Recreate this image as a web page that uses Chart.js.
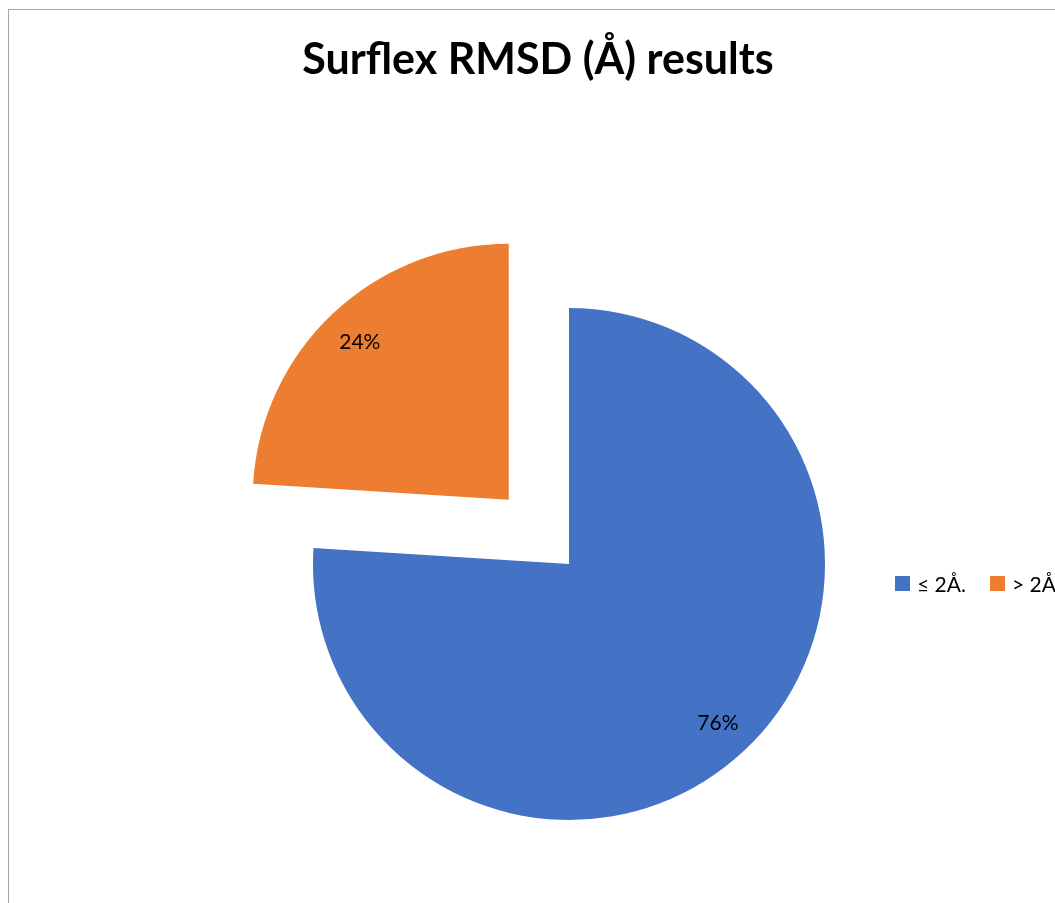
<!DOCTYPE html>
<html>
<head>
<meta charset="utf-8">
<script src="https://cdn.jsdelivr.net/npm/chart.js@4.4.1/dist/chart.umd.min.js"></script>
<style>
  html, body { margin: 0; padding: 0; background: #ffffff; overflow: hidden; }
  #frame { position: absolute; left: 8px; top: 9px; width: 1200px; height: 1000px; border: 1px solid #a6a6a6; box-sizing: border-box; }
  #wrap { position: absolute; left: 0; top: 0; width: 1055px; height: 903px; }
</style>
</head>
<body>
<div id="frame"></div>
<div id="wrap"><canvas id="c" width="1055" height="903"></canvas></div>
<script>
const TITLE = 'Surflex RMSD (Å) results';
const categories = ['≤ 2Å.', '> 2Å'];
const values = [76, 24];
const valueLabels = ['76%', '24%'];
const colors = ['#4472C4', '#ED7D31'];
const explode = [0, 352];

const FONT = 'Lato, "Open Sans", sans-serif';

const textPlugin = {
  id: 'textPlugin',
  afterDraw(chart) {
    const ctx = chart.ctx;
    ctx.save();
    // title
    ctx.fillStyle = '#000000';
    ctx.font = 'bold 43px ' + FONT;
    ctx.textAlign = 'center';
    ctx.textBaseline = 'alphabetic';
    ctx.fillText(TITLE, 538, 74);

    // data labels
    const meta = chart.getDatasetMeta(0);
    ctx.font = '21px ' + FONT;
    ctx.textBaseline = 'middle';
    meta.data.forEach((arc, i) => {
      const p = arc.getProps(['x', 'y', 'startAngle', 'endAngle', 'outerRadius'], true);
      const mid = (p.startAngle + p.endAngle) / 2;
      const off = (arc.options.offset || 0) / 4;
      const r = off + p.outerRadius * 0.85;
      ctx.fillText(valueLabels[i], p.x + Math.cos(mid) * r, p.y + Math.sin(mid) * r + 1);
    });

    // legend
    ctx.font = '21px ' + FONT;
    ctx.textAlign = 'left';
    const lx = [895, 990];
    categories.forEach((c, i) => {
      ctx.fillStyle = colors[i];
      ctx.fillRect(lx[i], 576, 15, 15);
      ctx.fillStyle = '#000000';
      ctx.fillText(c, lx[i] + 22, 585);
    });
    ctx.restore();
  }
};

new Chart(document.getElementById('c'), {
  type: 'pie',
  data: {
    labels: categories,
    datasets: [{
      data: values,
      backgroundColor: colors,
      borderWidth: 0,
      offset: explode,
      hoverOffset: 0
    }]
  },
  options: {
    responsive: false,
    animation: false,
    radius: 256,
    layout: { padding: { left: 83, right: 0, top: 245, bottom: 20 } },
    plugins: {
      legend: { display: false },
      title: { display: false },
      tooltip: { enabled: false }
    },
    events: []
  },
  plugins: [textPlugin]
});
</script>
</body>
</html>
